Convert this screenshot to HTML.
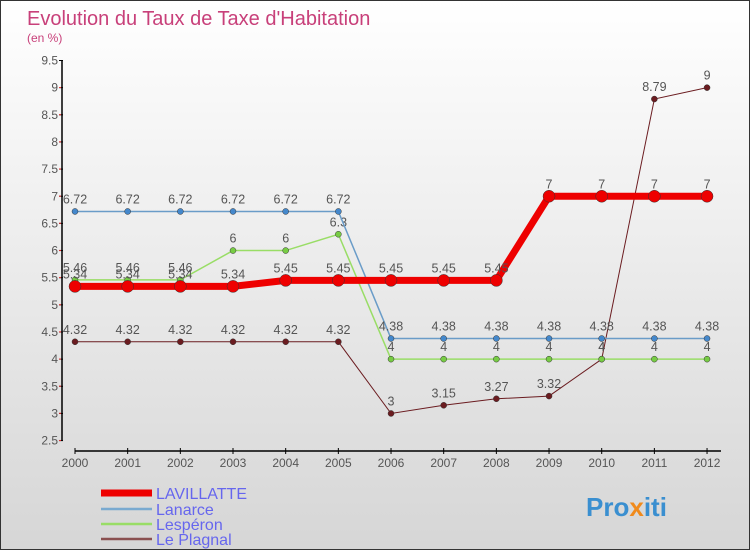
<!DOCTYPE html>
<html><head><meta charset="utf-8"><style>
body{margin:0}
#wrap{width:750px;height:550px;position:relative;box-sizing:border-box;border:1px solid #333;background:linear-gradient(#ffffff,#d6d6d6);font-family:"Liberation Sans",sans-serif;overflow:hidden}
svg{position:absolute;left:0;top:0}
</style></head><body>
<div id="wrap">
<svg id="c" width="750" height="550">
<text x="26" y="24" font-size="20" fill="#c8407a">Evolution du Taux de Taxe d'Habitation</text>
<text x="26" y="41" font-size="12" fill="#c8407a">(en %)</text>
<text x="585" y="515" font-size="26" font-weight="bold" fill="#3a8fd0">Pro<tspan fill="#f08a1c">x</tspan>iti</text>
</svg>
</div>
<script>
const years=[2000,2001,2002,2003,2004,2005,2006,2007,2008,2009,2010,2011,2012];
const lavillatte=[5.34,5.34,5.34,5.34,5.45,5.45,5.45,5.45,5.45,7,7,7,7];
const lanarce=[6.72,6.72,6.72,6.72,6.72,6.72,4.38,4.38,4.38,4.38,4.38,4.38,4.38];
const lesperon=[5.46,5.46,5.46,6,6,6.3,4,4,4,4,4,4,4];
const plagnal=[4.32,4.32,4.32,4.32,4.32,4.32,3,3.15,3.27,3.32,4,8.79,9];
const yTicks=[2.5,3,3.5,4,4.5,5,5.5,6,6.5,7,7.5,8,8.5,9,9.5];
const names=["LAVILLATTE","Lanarce","Lespéron","Le Plagnal"];
const svg=document.getElementById('c');const NS='http://www.w3.org/2000/svg';
const X=y=>74+(y-2000)*52.67;
const Y=v=>59.5+(9.5-v)*54.3;
function mk(t,a,p){const e=document.createElementNS(NS,t);for(const k in a)e.setAttribute(k,a[k]);(p||svg).appendChild(e);return e;}
let ya=mk('line',{x1:61,y1:60,x2:61,y2:440,stroke:'#000','stroke-width':1.5});


yTicks.forEach(v=>{
 mk('line',{x1:58,y1:Y(v),x2:62,y2:Y(v),stroke:'#000'});
 mk('line',{x1:58,y1:Y(v)+27,x2:60,y2:Y(v)+27,stroke:'#e33'}).setAttribute('opacity',v>2.5?1:0);
 const t=mk('text',{x:57,y:Y(v)+4,'text-anchor':'end','font-size':12,fill:'#555'});t.textContent=v;
 
 
});
let xa=mk('line',{x1:74,y1:450,x2:720,y2:450,stroke:'#000','stroke-width':1.5});


years.forEach(y=>{
 mk('line',{x1:X(y),y1:447,x2:X(y),y2:453,stroke:'#000'});
 const t=mk('text',{x:X(y),y:466,'text-anchor':'middle','font-size':12,fill:'#555'});t.textContent=y;
 
 
});
const series=[
 {d:plagnal,c:'#6b1c20',w:1,r:3,fill:'#6b1c20',n:'le-plagnal'},
 {d:lesperon,c:'#99dd66',w:1.5,r:3,fill:'#77cc44',n:'lesperon'},
 {d:lanarce,c:'#6a9cc8',w:1.5,r:3,fill:'#4488cc',n:'lanarce'},
 {d:lavillatte,c:'#ee0000',w:7,r:6,fill:'#ee0000',n:'lavillatte'}];
series.forEach(s=>{
 const p=mk('polyline',{points:s.d.map((v,i)=>X(years[i])+','+Y(v)).join(' '),fill:'none',stroke:s.c,'stroke-width':s.w});
 
 
 s.d.forEach((v,i)=>{
  const c=mk('circle',{cx:X(years[i]),cy:Y(v),r:s.r,fill:s.fill,stroke:'#333','stroke-width':0.5});
  
  
  const t=mk('text',{x:X(years[i]),y:Y(v)-8,'text-anchor':'middle','font-size':12.5,fill:'#555'});t.textContent=v;
  
  
 });
});
const lc=['#ee0000','#7aaad0','#99dd66','#8a5050'],lw=[7,2.5,2.5,2.5],ly=[492,508,523,538];
names.forEach((n,i)=>{
 const g=mk('g',{});
 
 
 mk('line',{x1:100,y1:ly[i],x2:151,y2:ly[i],stroke:lc[i],'stroke-width':lw[i]},g);
 const t=mk('text',{x:155,y:ly[i]+6,'font-size':16,fill:'#6666ee'},g);t.textContent=n;
});
</script>
</body></html>
